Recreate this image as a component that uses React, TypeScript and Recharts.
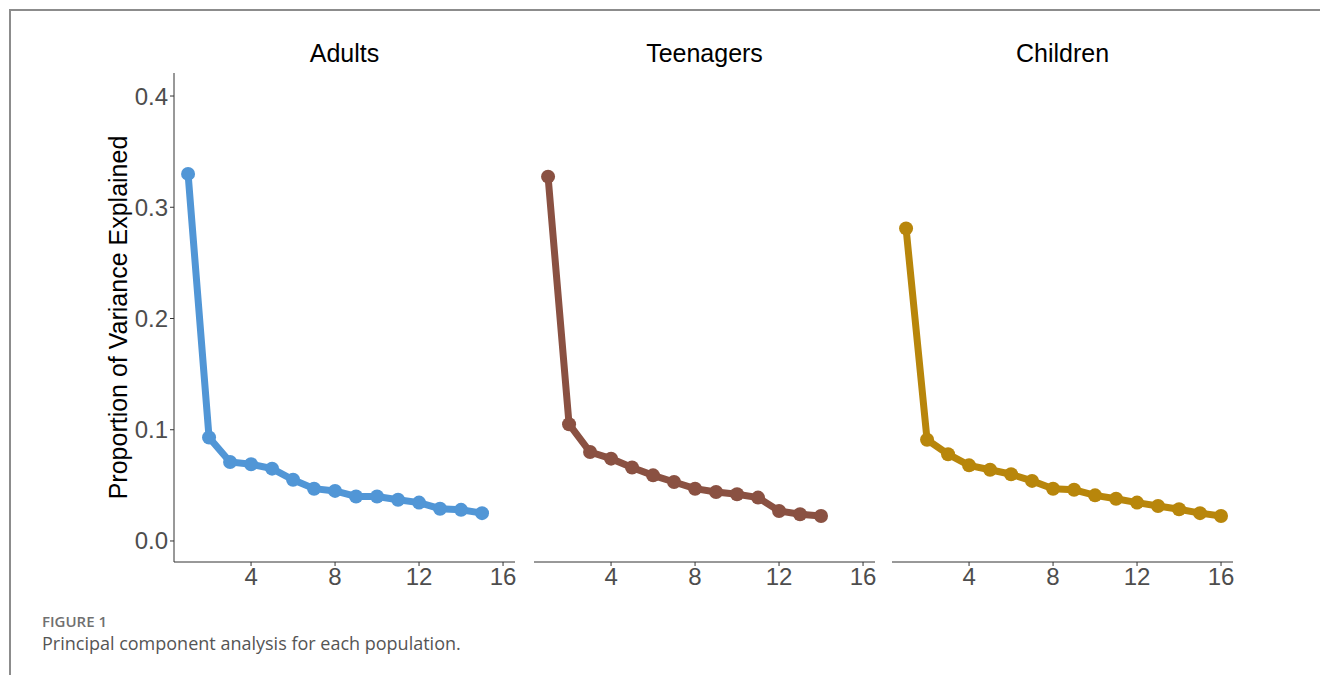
import { LineChart, Line, XAxis, YAxis } from 'recharts';

const components = [1, 2, 3, 4, 5, 6, 7, 8, 9, 10, 11, 12, 13, 14, 15, 16];

const adultsVar = [0.330, 0.093, 0.071, 0.069, 0.065, 0.055, 0.047, 0.045, 0.040, 0.040, 0.037, 0.0345, 0.029, 0.028, 0.025];
const teenVar = [0.3275, 0.105, 0.080, 0.074, 0.066, 0.059, 0.053, 0.047, 0.044, 0.042, 0.039, 0.027, 0.024, 0.0225];
const childVar = [0.281, 0.091, 0.078, 0.068, 0.064, 0.060, 0.054, 0.047, 0.046, 0.041, 0.038, 0.0345, 0.0315, 0.0285, 0.025, 0.0225];

const xTicks = [4, 8, 12, 16];
const yTicks = [0, 0.1, 0.2, 0.3, 0.4];

const panels = [
    { title: 'Adults', values: adultsVar, color: '#5196d6', left: 0, yAxisWidth: 174 },
    { title: 'Teenagers', values: teenVar, color: '#8a5142', left: 534, yAxisWidth: 0 },
    { title: 'Children', values: childVar, color: '#b8860b', left: 892, yAxisWidth: 0 },
];

const PLOT_W = 341;
const AXIS = '#333333';
const FONT = 'Liberation Sans, Arial, sans-serif';
const TICK = { fill: '#4d4d4d', fontSize: 24, fontFamily: FONT };

function Panel({ title, values, color, left, yAxisWidth }: typeof panels[number]) {
    const data = values.map((v, i) => ({ pc: components[i], v }));
    const width = yAxisWidth + PLOT_W + 15;
    return (
        <div style={{ position: 'absolute', left, top: 30, width, height: 570 }}>
            <div style={{
                position: 'absolute', left: yAxisWidth, width: PLOT_W, top: 9, textAlign: 'center',
                fontSize: 25, fontFamily: FONT, color: '#000',
            }}>{title}</div>
            <LineChart width={width} height={570} data={data} margin={{ top: 43, right: 15, left: 0, bottom: 0 }}>
                <XAxis
                    dataKey="pc"
                    type="number"
                    domain={[0.33, 16.57]}
                    ticks={xTicks}
                    allowDataOverflow
                    height={38}
                    tick={TICK}
                    tickSize={4}
                    tickMargin={2}
                    stroke={AXIS}
                />
                <YAxis
                    type="number"
                    domain={[-0.0189, 0.4207]}
                    ticks={yTicks}
                    allowDataOverflow
                    hide={yAxisWidth === 0}
                    width={yAxisWidth}
                    tick={TICK}
                    tickSize={4}
                    tickMargin={2}
                    tickFormatter={(v: number) => v.toFixed(1)}
                    stroke={AXIS}
                    label={{
                        value: 'Proportion of Variance Explained',
                        angle: -90,
                        position: 'insideLeft',
                        offset: 118,
                        style: { textAnchor: 'middle', fontSize: 25, fill: '#000', fontFamily: FONT },
                    }}
                />
                <Line
                    dataKey="v"
                    stroke={color}
                    strokeWidth={7}
                    dot={{ r: 7, fill: color, stroke: color, strokeWidth: 0 }}
                    isAnimationActive={false}
                />
            </LineChart>
        </div>
    );
}

export default function App() {
    return (
        <div style={{ position: 'absolute', left: 0, top: 0, width: 1320, height: 675, background: '#fff', overflow: 'hidden' }}>
            <div style={{ position: 'absolute', left: 9, top: 9, width: 1320, height: 2, background: '#8c8c8c' }} />
            <div style={{ position: 'absolute', left: 9, top: 9, width: 2, height: 680, background: '#8c8c8c' }} />
            {panels.map(p => <Panel key={p.title} {...p} />)}
            <div style={{
                position: 'absolute', left: 42, top: 611, fontSize: 15, fontWeight: 600,
                color: '#707070', fontFamily: 'Open Sans, sans-serif',
            }}>FIGURE 1</div>
            <div style={{
                position: 'absolute', left: 42, top: 631, fontSize: 18,
                color: '#555', fontFamily: 'Open Sans, sans-serif',
            }}>Principal component analysis for each population.</div>
        </div>
    );
}
